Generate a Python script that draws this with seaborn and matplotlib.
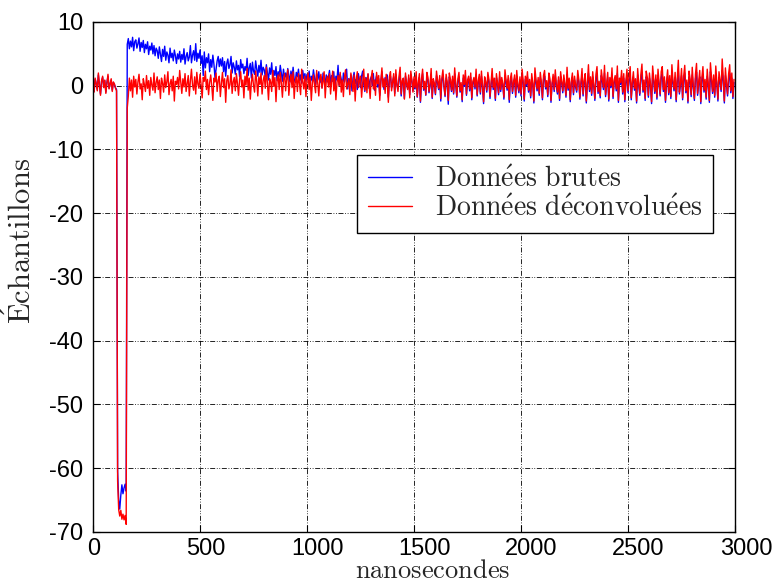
import matplotlib
matplotlib.use("Agg")
import matplotlib.pyplot as plt
import matplotlib.transforms as mtransforms
import numpy as np
import pandas as pd
import seaborn as sns

# time axis, one sample every 5 ns
NS = np.arange(0, 3000, 5)

LABEL_RAW = r"$\mathrm{Donn\acute{e}es\ brutes}$"
LABEL_DECONV = r"$\mathrm{Donn\acute{e}es\ d\acute{e}convolu\acute{e}es}$"

# raw samples (blue), 20 values per 100 ns
RAW = [
    0.4, -0.9, 1.0, 0.4, -0.6, 1.7, 0.2, -1.3, 0.7, 1.3, -0.2, 0.8, -1.0, 0.5, 1.5, -0.4, 0.3, 0.9, -0.7, 0.5,
    0.2, -0.3, -0.6, -60.5, -65.0, -66.4, -64.2, -62.6, -64.0, -63.1, -62.5, -63.6, 6.5, 7.4, 5.8, 7.0, 6.1, 7.6, 5.5, 6.9,
    7.2, 5.9, 6.6, 7.5, 5.4, 6.8, 6.0, 7.1, 5.2, 6.5, 5.8, 6.9, 4.9, 6.2, 5.6, 6.7, 5.0, 6.3, 4.7, 5.9,
    5.5, 4.3, 6.1, 5.0, 3.8, 5.7, 4.6, 6.2, 4.0, 5.3, 4.8, 3.6, 5.9, 4.4, 5.1, 3.9, 5.6, 4.7, 3.5, 5.0,
    4.2, 5.4, 3.7, 4.9, 4.1, 5.8, 3.4, 4.6, 5.2, 3.9, 4.5, 6.3, 3.6, 4.8, 5.5, 4.0, 6.6, 3.8, 5.1, 4.3,
    5.6, 3.5, 4.7, 1.6, 5.3, 2.8, 4.4, 3.6, 5.0, 2.2, 4.1, 2.9, 4.8, 3.4, 1.3, 2.6, 3.9, 4.6, 3.0, 4.2,
    3.1, 4.4, 2.2, 3.8, 1.5, 3.5, 4.2, 2.7, 3.3, 4.6, 2.0, 3.6, 2.9, 1.8, 3.9, 2.5, 3.2, 1.4, 4.1, 2.8,
    3.4, 1.9, 3.0, 2.4, 4.3, 1.6, 2.8, 3.5, 1.2, 3.7, 2.3, 1.8, 3.9, 2.6, 1.5, 3.2, 2.1, 4.0, 1.7, 2.9,
    2.5, 1.4, 3.3, 2.0, 0.9, 2.8, 1.8, 3.6, 1.1, 2.4, 1.6, 3.0, 0.8, 2.2, 1.5, 3.2, 1.9, 0.7, 2.6, 1.3,
    2.0, 0.9, 2.7, 1.6, 0.6, 2.3, 1.2, 2.9, 1.0, 0.5, 2.1, 1.4, 2.6, 0.8, 1.7, 0.4, 2.4, 1.1, 1.9, 0.7,
    1.8, 1.0, 2.3, 0.3, 1.5, 0.8, 2.5, 1.2, 0.2, 1.9, 0.9, 2.2, 0.5, 1.4, -0.3, 2.0, 1.1, 0.4, 1.7, 0.6,
    1.3, 2.4, 0.2, 1.6, 0.7, 2.2, -0.4, 1.5, 0.9, 3.2, 0.1, 1.8, 1.0, -0.2, 2.0, 0.6, 1.4, 2.6, -0.5, 1.1,
    0.5, 1.7, -0.8, 1.2, 2.1, 0.3, 1.0, -0.6, 1.9, 0.8, -0.3, 1.5, 2.3, 0.2, -0.9, 1.3, 0.6, 1.8, -0.4, 0.9,
    1.4, 0.0, 1.9, -0.7, 0.8, 1.6, -0.2, 1.1, -1.5, 0.7, 2.2, 0.4, -0.6, 1.3, 0.1, 1.7, -1.8, 0.9, 1.5, -0.3,
    0.6, 1.4, -1.2, 1.8, 0.2, -0.5, 1.0, 2.0, -1.6, 0.5, 0.9, -2.0, 1.5, 0.3, -0.4, 1.2, -1.4, 1.7, 0.7, -0.8,
    1.0, -0.5, 1.6, -1.8, 0.2, 1.3, -2.6, 0.6, 1.9, -0.7, 0.4, -1.5, 1.5, 0.9, -1.1, 0.0, 1.8, -2.0, 0.7, 0.1,
    -1.4, 1.6, 0.5, -0.6, 1.1, -2.4, 0.8, 1.7, -0.2, -1.7, 1.2, 0.3, -2.9, 1.4, 0.6, -0.9, 1.0, -1.3, 1.9, 0.0,
    -1.8, 0.7, 1.4, -1.0, 0.2, -2.5, 1.2, -0.1, 1.6, -1.5, 0.5, 1.0, -0.8, 1.3, -2.2, 0.4, 0.9, -0.5, 1.7, -1.6,
    0.4, 1.2, -1.3, 1.5, -0.2, -2.8, 0.9, 0.3, -1.0, 1.4, 0.6, -2.0, 0.1, 1.8, -0.6, 0.8, -2.3, 1.2, 0.2, -1.4,
    1.4, -0.9, 0.8, 0.0, -2.1, 1.6, 0.5, -0.7, 1.0, -2.6, 0.7, 1.3, -1.2, 0.3, 1.1, -1.8, 1.5, -0.1, -1.1, 0.9,
    -1.6, 1.7, 0.4, -2.4, 1.0, 0.0, 1.4, -1.0, 0.6, -1.9, 1.2, 0.1, -2.7, 1.8, 0.5, -0.8, 0.8, -1.5, 1.3, 0.3,
    -2.2, 1.0, 1.5, -0.5, 0.4, -1.7, 1.3, 0.7, -2.6, 0.2, 1.1, -0.9, 1.6, -0.1, -1.3, 0.9, -2.3, 1.4, 0.4, -1.1,
    1.1, 0.0, -1.8, 1.8, -0.7, 0.8, -2.5, 0.5, 1.3, -1.4, 0.9, -0.2, -1.0, 1.5, 0.6, -2.1, 0.3, 1.7, -1.6, 0.5,
    1.2, -2.7, 0.2, 2.0, -0.9, 0.9, -1.5, 1.4, -0.1, -2.3, 1.1, 1.9, -1.2, 0.4, -1.9, 1.6, 0.7, -0.6, 2.0, -1.7,
    0.1, 1.3, -2.4, 0.8, -0.3, 1.8, -2.0, 0.5, 1.0, -0.8, 1.9, -2.6, 0.7, 0.2, 1.5, -1.3, 1.2, -2.5, 0.4, 1.6,
    -1.1, 0.9, 1.9, -2.2, 0.3, 1.4, -0.7, 0.7, -2.7, 1.7, 0.0, -1.5, 1.1, 2.1, -1.0, 0.5, -2.3, 1.4, 0.8, -1.8,
    1.2, -0.1, -2.8, 1.9, 0.6, -1.2, 1.0, -2.1, 1.6, 0.2, -1.6, 1.3, 1.9, -0.9, 0.8, -2.6, 0.4, 1.5, -1.4, 1.0,
    -2.0, 2.0, 0.3, -0.8, 1.3, -2.5, 0.7, 2.4, -1.3, 0.1, 1.6, -2.2, 0.9, 2.0, -1.1, 0.5, -2.7, 1.4, 0.6, -1.7,
    1.7, -0.2, -2.3, 1.1, 2.1, -1.5, 0.3, 1.4, -2.8, 0.8, 1.8, -1.0, 0.6, -2.1, 1.5, 0.0, -2.6, 2.2, 0.8, -1.2,
    1.0, -1.8, 1.8, 0.2, -2.4, 1.3, 0.5, -0.9, 2.4, 0.7, -2.7, 1.6, 0.1, -1.6, 1.1, 1.9, -1.1, 1.2, -2.0, 0.5,
]

# deconvolved samples (red)
DECONV = [
    0.5, -1.0, 1.2, 0.3, -0.8, 2.0, 0.1, -1.5, 0.8, 1.5, -0.3, 0.9, -1.2, 0.4, 1.8, -0.5, 0.2, 1.1, -0.9, 0.6,
    0.3, -0.4, -0.8, -62.0, -66.5, -67.5, -66.6, -68.0, -67.2, -68.1, -67.4, -68.8, -3.5, -1.6, 1.2, -0.8, 0.9, -1.8, 1.5, -0.2,
    1.0, -1.3, 0.6, 1.8, -0.5, 0.3, -2.2, 1.1, 0.2, -0.9, 1.6, -0.4, 0.8, -1.5, 1.3, 0.1, -0.7, 2.0, -1.1, 0.5,
    1.4, -0.6, 0.9, -2.0, 1.2, 0.4, -1.0, 1.7, -0.3, 0.6, 2.2, -1.4, 0.3, 1.0, -0.8, 1.5, -2.4, 0.7, 0.2, 1.3,
    -0.5, 2.4, 0.6, -1.2, 1.1, -0.2, 1.9, -0.9, 0.4, 1.6, -1.6, 0.8, 2.6, 0.1, -0.7, 1.4, -1.3, 2.1, 0.3, -0.4,
    1.8, 0.2, -1.9, 1.3, 0.7, 2.3, -0.6, 1.0, -1.4, 0.5, 1.7, -0.1, -2.3, 1.2, 0.6, 2.0, -0.9, 0.9, 1.5, -1.7,
    0.4, 2.1, -0.3, 1.1, -2.6, 0.8, 1.6, -0.5, 0.2, 2.5, -1.2, 0.6, 1.3, -0.8, 1.9, 0.3, -1.5, 1.0, 2.2, -0.2,
    0.9, -1.9, 1.5, 0.1, 2.7, -0.7, 1.2, -2.1, 0.5, 1.8, 0.0, -1.0, 2.3, 0.7, -1.6, 1.4, 0.2, 2.0, -1.3, 0.8,
    1.6, -0.4, 2.9, 0.3, -2.2, 1.1, 0.6, -0.9, 2.4, -0.1, 1.3, -2.5, 0.9, 1.7, -0.6, 2.1, 0.4, -1.8, 1.0, 1.9,
    -0.8, 1.2, 2.5, -1.5, 0.5, 1.8, -0.3, 2.2, -2.0, 0.7, 1.4, -0.9, 1.9, 0.2, -1.4, 2.6, 0.6, -0.5, 1.5, -1.7,
    0.9, 2.0, -0.6, 1.3, -2.3, 0.4, 1.7, 0.1, -1.1, 2.4, 0.3, -1.6, 1.1, 1.8, -0.4, 0.6, 2.2, -1.9, 0.8, 1.5,
    -0.2, 1.9, -1.3, 0.7, 2.3, -0.8, 1.2, -2.2, 0.5, 1.6, 0.0, 2.1, -1.0, 0.9, -1.7, 1.4, 2.5, -0.5, 0.3, 1.1,
    -1.4, 2.0, 0.6, -0.9, 1.7, -2.4, 1.0, 2.2, -0.3, 0.8, 1.5, -1.8, 0.4, 2.6, -0.7, 1.2, -1.1, 1.9, 0.2, -2.0,
    1.3, 2.4, -0.5, 0.9, -1.5, 2.1, 0.3, 1.6, -2.3, 0.7, 2.8, -0.2, 1.1, -1.2, 1.8, 0.5, -2.6, 1.4, 2.2, -0.8,
    0.6, 1.9, -1.6, 2.5, 0.1, -0.9, 1.5, 2.9, -1.3, 0.8, 1.2, -2.1, 2.0, 0.4, -0.6, 1.7, -1.9, 2.3, 0.9, -1.0,
    1.4, -0.3, 2.2, -1.7, 0.5, 1.9, -2.4, 1.0, 2.6, -0.5, 0.7, -1.4, 2.1, 1.3, -0.9, 0.2, 2.7, -1.8, 1.1, 0.4,
    -1.2, 2.3, 0.8, -0.4, 1.6, -2.0, 1.2, 2.5, 0.0, -1.5, 1.8, 0.6, -2.3, 2.0, 1.0, -0.7, 1.5, -1.1, 2.8, 0.3,
    -1.6, 1.1, 2.1, -0.8, 0.5, -2.2, 1.7, 0.2, 2.4, -1.3, 0.9, 1.5, -0.5, 2.0, -1.9, 0.7, 1.3, -0.2, 2.6, -1.4,
    0.8, 1.8, -1.0, 2.3, 0.1, -2.5, 1.4, 0.6, -0.7, 2.1, 1.0, -1.7, 0.4, 2.7, -0.3, 1.2, -2.0, 1.9, 0.5, -1.1,
    2.2, -0.6, 1.3, 0.3, -1.8, 2.5, 0.9, -0.4, 1.6, -2.2, 1.1, 2.0, -0.9, 0.6, 1.7, -1.5, 2.4, 0.2, -0.8, 1.4,
    -1.3, 2.6, 0.7, -2.1, 1.5, 0.3, 2.2, -0.7, 1.0, -1.6, 1.9, 0.4, -2.4, 2.8, 0.9, -0.5, 1.3, -1.2, 2.1, 0.6,
    -1.9, 1.6, 2.4, -0.2, 0.8, -1.4, 2.0, 1.1, -2.3, 0.5, 1.8, -0.6, 2.5, 0.2, -1.0, 1.4, -2.0, 2.2, 0.7, -0.8,
    1.7, 0.3, -1.5, 2.9, -0.4, 1.2, -2.2, 0.8, 2.0, -1.1, 1.5, 0.1, -0.7, 2.4, 1.0, -1.8, 0.6, 2.7, -1.3, 0.9,
    1.9, -2.4, 0.5, 3.3, -0.6, 1.4, -1.2, 2.2, 0.2, -2.0, 1.8, 3.0, -0.9, 0.7, -1.6, 2.5, 1.1, -0.3, 3.2, -1.4,
    0.4, 2.1, -2.1, 1.3, 0.0, 2.8, -1.7, 0.9, 1.6, -0.5, 3.1, -2.3, 1.2, 0.5, 2.4, -1.0, 1.9, -2.2, 0.8, 2.6,
    -0.8, 1.5, 3.0, -1.9, 0.6, 2.2, -0.4, 1.1, -2.4, 2.7, 0.3, -1.2, 1.8, 3.4, -0.7, 0.9, -2.0, 2.3, 1.3, -1.5,
    2.0, 0.2, -2.5, 3.1, 1.0, -0.9, 1.7, -1.8, 2.6, 0.5, -1.3, 2.2, 3.0, -0.6, 1.4, -2.3, 0.8, 2.5, -1.1, 1.6,
    -1.7, 3.3, 0.7, -0.5, 2.1, -2.2, 1.2, 4.0, -1.0, 0.4, 2.7, -1.9, 1.5, 3.2, -0.8, 0.9, -2.4, 2.3, 1.1, -1.4,
    2.9, 0.1, -2.0, 1.8, 3.5, -1.2, 0.6, 2.4, -2.5, 1.3, 3.0, -0.7, 1.0, -1.8, 2.6, 0.3, -2.3, 3.6, 1.4, -0.9,
    1.7, -1.5, 3.1, 0.5, -2.1, 2.2, 0.9, -0.6, 4.2, 1.2, -2.4, 2.8, 0.4, -1.3, 1.9, 3.3, -0.8, 2.0, -1.7, 1.0,
]

X_TICKS = [0, 500, 1000, 1500, 2000, 2500, 3000]
Y_TICKS = [10, 0, -10, -20, -30, -40, -50, -60, -70]

sns.set_style("ticks")
plt.rcParams.update({
    "font.family": ["Liberation Sans", "DejaVu Sans"],
    "mathtext.fontset": "cm",
    "axes.unicode_minus": False,
    "xtick.direction": "in",
    "ytick.direction": "in",
    "xtick.top": True,
    "ytick.right": True,
})

df = pd.DataFrame({
    "ns": np.concatenate([NS, NS]),
    "val": RAW + DECONV,
    "serie": [LABEL_RAW] * len(NS) + [LABEL_DECONV] * len(NS),
})

fig = plt.figure(figsize=(7.77, 5.85), dpi=100)
ax = fig.add_axes([0.1197, 0.0906, 0.8263, 0.8718])

sns.lineplot(data=df, x="ns", y="val", hue="serie", hue_order=[LABEL_RAW, LABEL_DECONV],
             palette=["#0000ff", "#ff0000"], linewidth=1.0, ax=ax, estimator=None, sort=False)

ax.set_xlim(0, 3000)
ax.set_ylim(-70, 10)
ax.set_xticks(X_TICKS)
ax.set_yticks(Y_TICKS)
ax.tick_params(labelsize=17, length=5, width=0.8, colors="black")
ax.tick_params(axis="x", pad=4)
ax.tick_params(axis="y", pad=7)
ax.grid(True, color="black", linestyle=(0, (6, 2, 1, 2, 1, 2)), linewidth=0.6)
for s in ax.spines.values():
    s.set_color("black")
    s.set_linewidth(1.0)

ax.set_xlabel(r"$\mathrm{nanosecondes}$", fontsize=19)
ax.set_ylabel(r"$\mathrm{\acute{E}chantillons}$", fontsize=22)
ax.xaxis.set_label_coords(0.5296, -0.053)
ax.yaxis.set_label_coords(-0.086, 0.571)

# the x tick labels of the original sit a little to the right of their ticks
x_shift_px = [1, 6, 10, 10, 10, 10, 11]
for lab, dx in zip(ax.get_xticklabels(), x_shift_px):
    lab.set_transform(lab.get_transform() + mtransforms.ScaledTranslation(dx / 100, 0, fig.dpi_scale_trans))

handles, labels = ax.get_legend_handles_labels()
leg = ax.legend(handles, labels, loc="upper left", bbox_to_anchor=(0.411, 0.739),
                borderaxespad=0, fontsize=20, frameon=True, fancybox=False,
                framealpha=1, edgecolor="black", handlelength=1.6, handletextpad=0.8,
                labelspacing=0.05, borderpad=0.4)
leg.get_frame().set_linewidth(1.0)

fig.savefig("out.png", dpi=100)
